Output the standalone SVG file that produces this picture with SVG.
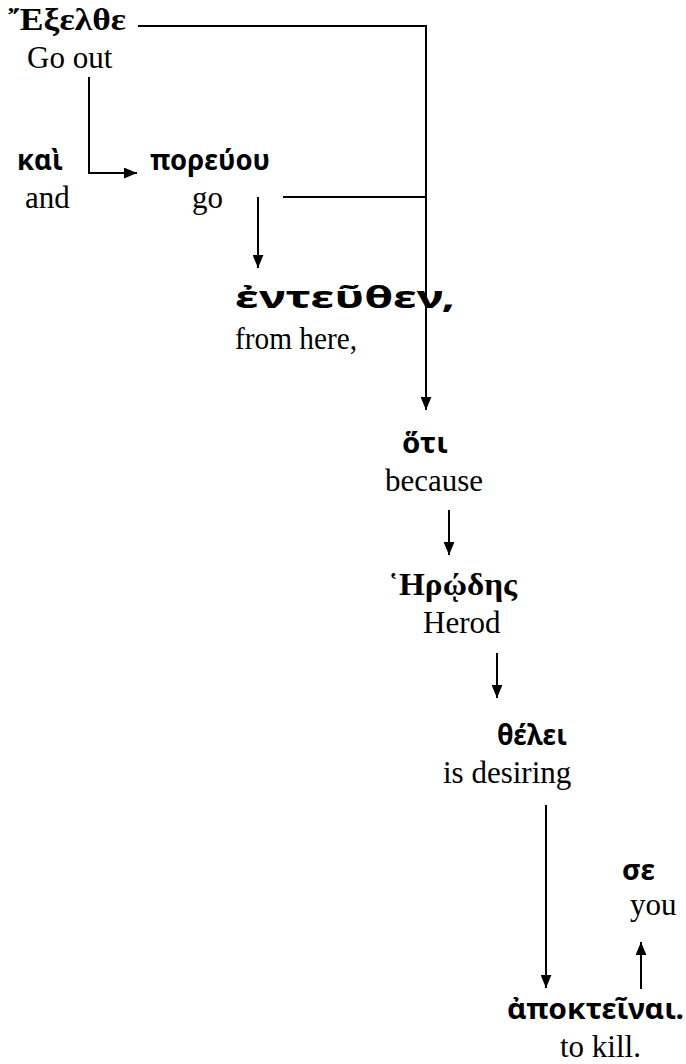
<svg xmlns="http://www.w3.org/2000/svg" width="686" height="1064" viewBox="0 0 686 1064">
  <style>
    .gk { font-family: "Noto Sans", "DejaVu Sans", sans-serif; font-weight: bold; font-size: 28px; fill: #000; }
    .gc { font-family: "Liberation Serif", serif; font-weight: bold; font-size: 31px; fill: #000; }
    .en { font-family: "Liberation Serif", "Times New Roman", serif; font-size: 31px; fill: #000; }
    .ln { stroke: #000; stroke-width: 2; fill: none; }
  </style>
  <defs>
    <marker id="arr" viewBox="0 0 12 10" refX="12" refY="5" markerWidth="13" markerHeight="11" markerUnits="userSpaceOnUse" orient="auto">
      <path d="M0,0 L12,5 L0,10 Z" fill="#000"/>
    </marker>
  </defs>

  <!-- connectors -->
  <g id="connectors">
    <polyline class="ln" points="138,26 426,26 426,410" marker-end="url(#arr)"/>
    <line class="ln" x1="283" y1="197" x2="426" y2="197"/>
    <polyline class="ln" points="89,77 89,173 137,173" marker-end="url(#arr)"/>
    <line class="ln" x1="258" y1="197" x2="258" y2="268" marker-end="url(#arr)"/>
    <line class="ln" x1="449" y1="510" x2="449" y2="555" marker-end="url(#arr)"/>
    <line class="ln" x1="497" y1="653" x2="497" y2="698" marker-end="url(#arr)"/>
    <line class="ln" x1="546" y1="805" x2="546" y2="988" marker-end="url(#arr)"/>
    <line class="ln" x1="641" y1="989" x2="641" y2="942" marker-end="url(#arr)"/>
  </g>

  <g id="n-exelthe">
    <text class="gc" x="8" y="30" textLength="118" lengthAdjust="spacingAndGlyphs">῎Εξελθε</text>
    <text class="en" x="27" y="68">Go out</text>
  </g>
  <g id="n-kai">
    <text class="gk" x="17" y="170" textLength="46" lengthAdjust="spacingAndGlyphs">καὶ</text>
    <text class="en" x="25" y="208">and</text>
  </g>
  <g id="n-poreuou">
    <text class="gk" x="150" y="170" textLength="120" lengthAdjust="spacingAndGlyphs">πορεύου</text>
    <text class="en" x="192" y="208">go</text>
  </g>
  <g id="n-enteuthen">
    <text class="gk" x="235" y="308" style="font-size:30px" textLength="220" lengthAdjust="spacingAndGlyphs">ἐντεῦθεν,</text>
    <text class="en" x="235" y="349" textLength="122" lengthAdjust="spacingAndGlyphs">from here,</text>
  </g>
  <g id="n-hoti">
    <text class="gk" x="402" y="453" textLength="46" lengthAdjust="spacingAndGlyphs">ὅτι</text>
    <text class="en" x="385" y="491">because</text>
  </g>
  <g id="n-herodes">
    <text class="gc" x="388" y="595" textLength="129" lengthAdjust="spacingAndGlyphs">῾Ηρῴδης</text>
    <text class="en" x="423" y="633">Herod</text>
  </g>
  <g id="n-thelei">
    <text class="gk" x="497" y="745" textLength="70" lengthAdjust="spacingAndGlyphs">θέλει</text>
    <text class="en" x="443" y="783">is desiring</text>
  </g>
  <g id="n-se">
    <text class="gk" x="622" y="880" textLength="33" lengthAdjust="spacingAndGlyphs">σε</text>
    <text class="en" x="630" y="915">you</text>
  </g>
  <g id="n-apokteinai">
    <text class="gk" x="507" y="1019" textLength="177" lengthAdjust="spacingAndGlyphs">ἀποκτεῖναι.</text>
    <text class="en" x="560" y="1057">to kill.</text>
  </g>
</svg>
